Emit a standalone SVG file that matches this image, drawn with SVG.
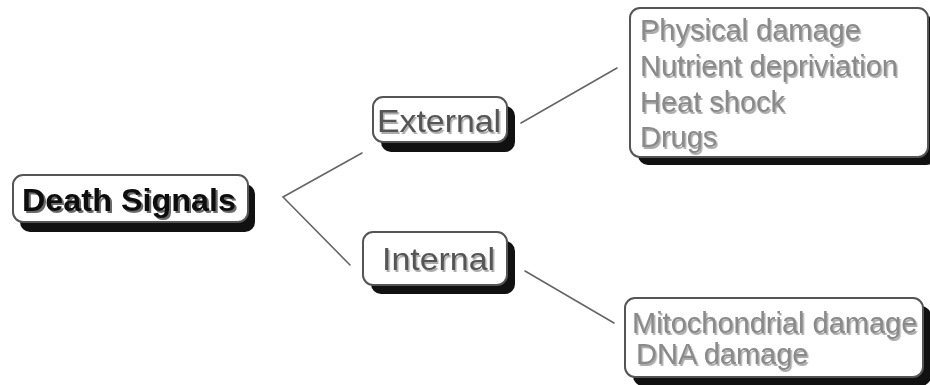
<svg xmlns="http://www.w3.org/2000/svg" width="930" height="385" viewBox="0 0 930 385">
<defs>
<filter id="tsh" x="-5%" y="-20%" width="110%" height="150%">
<feDropShadow dx="1.5" dy="2" stdDeviation="0.6" flood-color="#888" flood-opacity="0.7"/>
</filter>
<filter id="tshd" x="-5%" y="-20%" width="110%" height="150%">
<feDropShadow dx="2" dy="2" stdDeviation="0.6" flood-color="#444" flood-opacity="0.8"/>
</filter>
</defs>
<style>
.bg{fill:#fff}
.shadow{fill:#111}
.box{fill:#fff;stroke:#555;stroke-width:2}
.t{font-family:"Liberation Sans",Arial,sans-serif}
.main{font-size:31px;font-weight:bold;fill:#111;filter:url(#tshd)}
.mid{font-size:32px;fill:#555;filter:url(#tsh)}
.leaf{font-size:29px;fill:#8a8a8a;filter:url(#tsh)}
.conn{stroke:#666;stroke-width:1.6;fill:none;stroke-linecap:round}
</style>
<rect class="bg" x="0" y="0" width="930" height="385"/>
<g id="connectors">
<polyline class="conn" points="362,153 283,197 350,265"/>
<line class="conn" x1="521" y1="123" x2="617" y2="68"/>
<line class="conn" x1="525" y1="271" x2="614" y2="323"/>
</g>
<g id="death-signals">
<rect class="shadow" x="20" y="184" width="235" height="48" rx="10"/>
<rect class="box" x="13" y="175" width="235" height="47" rx="10"/>
<text class="t main" x="22" y="211" textLength="214" lengthAdjust="spacingAndGlyphs">Death Signals</text>
</g>
<g id="external">
<rect class="shadow" x="381" y="106" width="134" height="46" rx="10"/>
<rect class="box" x="373" y="97" width="134" height="45" rx="10"/>
<text class="t mid" x="377" y="132" textLength="124" lengthAdjust="spacingAndGlyphs">External</text>
</g>
<g id="internal">
<rect class="shadow" x="371" y="241" width="144" height="53" rx="10"/>
<rect class="box" x="363" y="232" width="144" height="53" rx="10"/>
<text class="t mid" x="382" y="270" textLength="113" lengthAdjust="spacingAndGlyphs">Internal</text>
</g>
<g id="external-causes">
<rect class="shadow" x="638" y="16" width="298" height="149" rx="10"/>
<rect class="box" x="630" y="8" width="298" height="149" rx="10"/>
<text class="t leaf" x="640" y="40">Physical damage</text>
<text class="t leaf" x="640" y="76">Nutrient depriviation</text>
<text class="t leaf" x="640" y="112">Heat shock</text>
<text class="t leaf" x="640" y="147">Drugs</text>
</g>
<g id="internal-causes">
<rect class="shadow" x="633" y="306" width="298" height="80" rx="10"/>
<rect class="box" x="625" y="298" width="298" height="79" rx="10"/>
<text class="t leaf" x="632" y="333">Mitochondrial damage</text>
<text class="t leaf" x="636" y="364">DNA damage</text>
</g>
</svg>
